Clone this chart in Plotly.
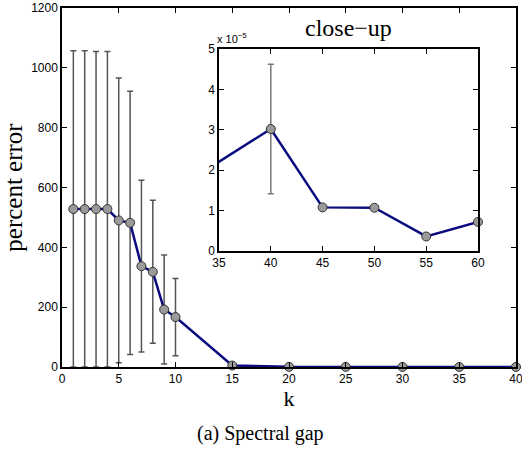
import plotly.graph_objects as go

# Main data
k = [1, 2, 3, 4, 5, 6, 7, 8, 9, 10, 15, 20, 25, 30, 35, 40]
err_mean = [528, 528, 528, 528, 490, 482, 337, 318, 192, 167, 5, 0.5, 0.3, 0.2, 0.1, 0.05]
err_hi = [529, 529, 527, 527, 476, 440, 287, 239, 182, 129, 0, 0, 0, 0, 0, 0]
err_lo = [528, 528, 528, 528, 476, 440, 287, 239, 182, 129, 0, 0, 0, 0, 0, 0]

# Inset (close-up) data
k_in = [30, 40, 45, 50, 55, 60]
v_in = [1.4e-5, 3.02e-5, 1.08e-5, 1.07e-5, 0.36e-5, 0.72e-5]
v_in_err = [0, 1.6e-5, 0, 0, 0, 0]

x_ticks = [0, 5, 10, 15, 20, 25, 30, 35, 40]
y_ticks = [0, 200, 400, 600, 800, 1000, 1200]
xin_ticks = [35, 40, 45, 50, 55, 60]
yin_ticks = [0, 1e-5, 2e-5, 3e-5, 4e-5, 5e-5]
yin_text = ["0", "1", "2", "3", "4", "5"]

LINE = "#0b0b80"
MFILL = "#9a9a9a"
MEDGE = "#333333"
ERRC = "#555555"
SERIF = "Liberation Serif, Times New Roman, serif"
SANS = "Liberation Sans, Arial, sans-serif"

fig = go.Figure()

fig.add_trace(go.Scatter(
    x=k, y=err_mean, mode="lines+markers",
    line=dict(color=LINE, width=2.5),
    marker=dict(color=MFILL, size=9, line=dict(color=MEDGE, width=1)),
    error_y=dict(type="data", array=err_hi, arrayminus=err_lo, symmetric=False,
                 color=ERRC, thickness=1.5, width=3),
    cliponaxis=False, showlegend=False,
    xaxis="x", yaxis="y",
))

# inset line (clipped) and markers
fig.add_trace(go.Scatter(
    x=k_in, y=v_in, mode="lines",
    line=dict(color=LINE, width=2.5),
    cliponaxis=True, showlegend=False,
    xaxis="x2", yaxis="y2",
))
fig.add_trace(go.Scatter(
    x=k_in[1:], y=v_in[1:], mode="markers",
    marker=dict(color=MFILL, size=9, line=dict(color=MEDGE, width=1)),
    error_y=dict(type="data", array=v_in_err[1:], color="#777777", thickness=1.5, width=3),
    cliponaxis=False, showlegend=False,
    xaxis="x2", yaxis="y2",
))

axis_common = dict(
    showgrid=False, zeroline=False, showline=True, linecolor="black", linewidth=1.5,
    mirror="ticks", ticks="inside", ticklen=5, tickcolor="black", automargin=False,
    ticklabeloverflow="allow",
    tickfont=dict(family=SANS, size=12, color="black"),
)

fig.update_layout(
    width=522, height=451,
    margin=dict(l=62, r=6, t=8, b=84),
    paper_bgcolor="white", plot_bgcolor="white",
    xaxis=dict(range=[0, 40], tickvals=x_ticks, domain=[0, 1],
               title=dict(text="k", font=dict(family=SERIF, size=22, color="black"), standoff=2),
               **axis_common),
    yaxis=dict(range=[0, 1200], tickvals=y_ticks, domain=[0, 1],
               title=dict(text="percent error", font=dict(family=SERIF, size=25, color="black"), standoff=9),
               **axis_common),
    xaxis2=dict(range=[35, 60], tickvals=xin_ticks, domain=[0.3458, 0.9163], anchor="y2",
                **axis_common),
    yaxis2=dict(range=[0, 5e-5], tickvals=yin_ticks, ticktext=yin_text, domain=[0.3231, 0.8858], anchor="x2",
                **axis_common),
    annotations=[
        dict(text="close\u2212up", xref="paper", yref="paper", x=0.631, y=0.8858, yshift=21,
             xanchor="center", yanchor="middle", showarrow=False,
             font=dict(family=SERIF, size=24, color="black")),
        dict(text="x 10<sup>\u22125</sup>", xref="paper", yref="paper", x=0.3458, y=0.8858, xshift=-4, yshift=2,
             xanchor="left", yanchor="bottom", showarrow=False,
             font=dict(family=SANS, size=11, color="black")),
        dict(text="(a) Spectral gap", xref="paper", yref="paper", x=0.438, y=0, yshift=-66,
             xanchor="center", yanchor="middle", showarrow=False,
             font=dict(family=SERIF, size=20, color="black")),
    ],
)

fig.write_html("out.html", config={"displayModeBar": False},
               post_script="document.body.style.margin='0';")
